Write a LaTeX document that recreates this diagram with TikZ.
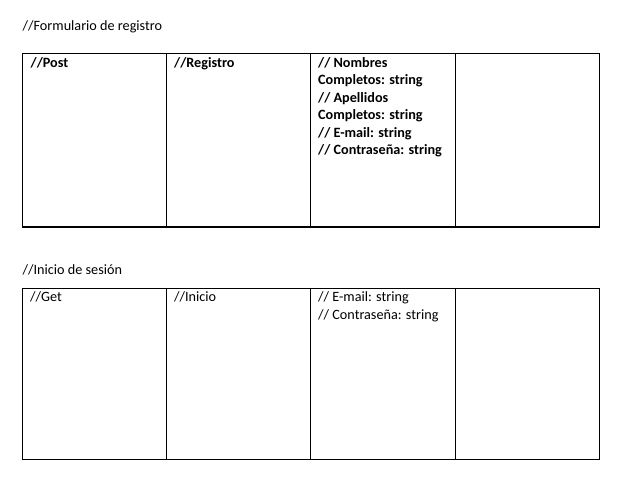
\documentclass[tikz,border=0pt]{standalone}
\usepackage{fontspec}
\setmainfont{Carlito}
\begin{document}
\begin{tikzpicture}[x=1pt,y=-1pt,
  txt/.style={anchor=base west,inner sep=0pt,font=\fontsize{14.2}{17.4}\selectfont},
  btxt/.style={txt,font=\fontsize{14.2}{17.4}\selectfont\bfseries},
  grid/.style={line width=1.2pt,black}]
\useasboundingbox[fill=white] (0,0) rectangle (624,486);
% titles
\node[txt] (t1) at (22.5,30.5) {//Formulario de registro};
\node[txt] (t2) at (22.5,274.5) {//Inicio de sesión};
% top table
\draw[grid] (22.5,53.3) rectangle (599.3,227);
\draw[grid] (166.7,53.3) -- (166.7,227);
\draw[grid] (310.7,53.3) -- (310.7,227);
\draw[grid] (455.7,53.3) -- (455.7,227);
\node[btxt] (p1) at (30.5,67.5) {//Post};
\node[btxt] (p2) at (174,67.5) {//Registro};
\node[btxt,align=left,anchor=north west] (p3) at (318,57.4) {// Nombres\\Completos: string\\// Apellidos\\Completos: string\\// E-mail: string\\// Contraseña: string};
% bottom table
\draw[grid] (22.5,288.7) rectangle (599.3,459.3);
\draw[grid] (166.7,288.7) -- (166.7,459.3);
\draw[grid] (310.7,288.7) -- (310.7,459.3);
\draw[grid] (455.7,288.7) -- (455.7,459.3);
\node[txt] (g1) at (30,302) {//Get};
\node[txt] (g2) at (174,302) {//Inicio};
\node[txt,align=left,anchor=north west] (g3) at (318,291.8) {// E-mail: string\\// Contraseña: string};
\end{tikzpicture}
\end{document}
